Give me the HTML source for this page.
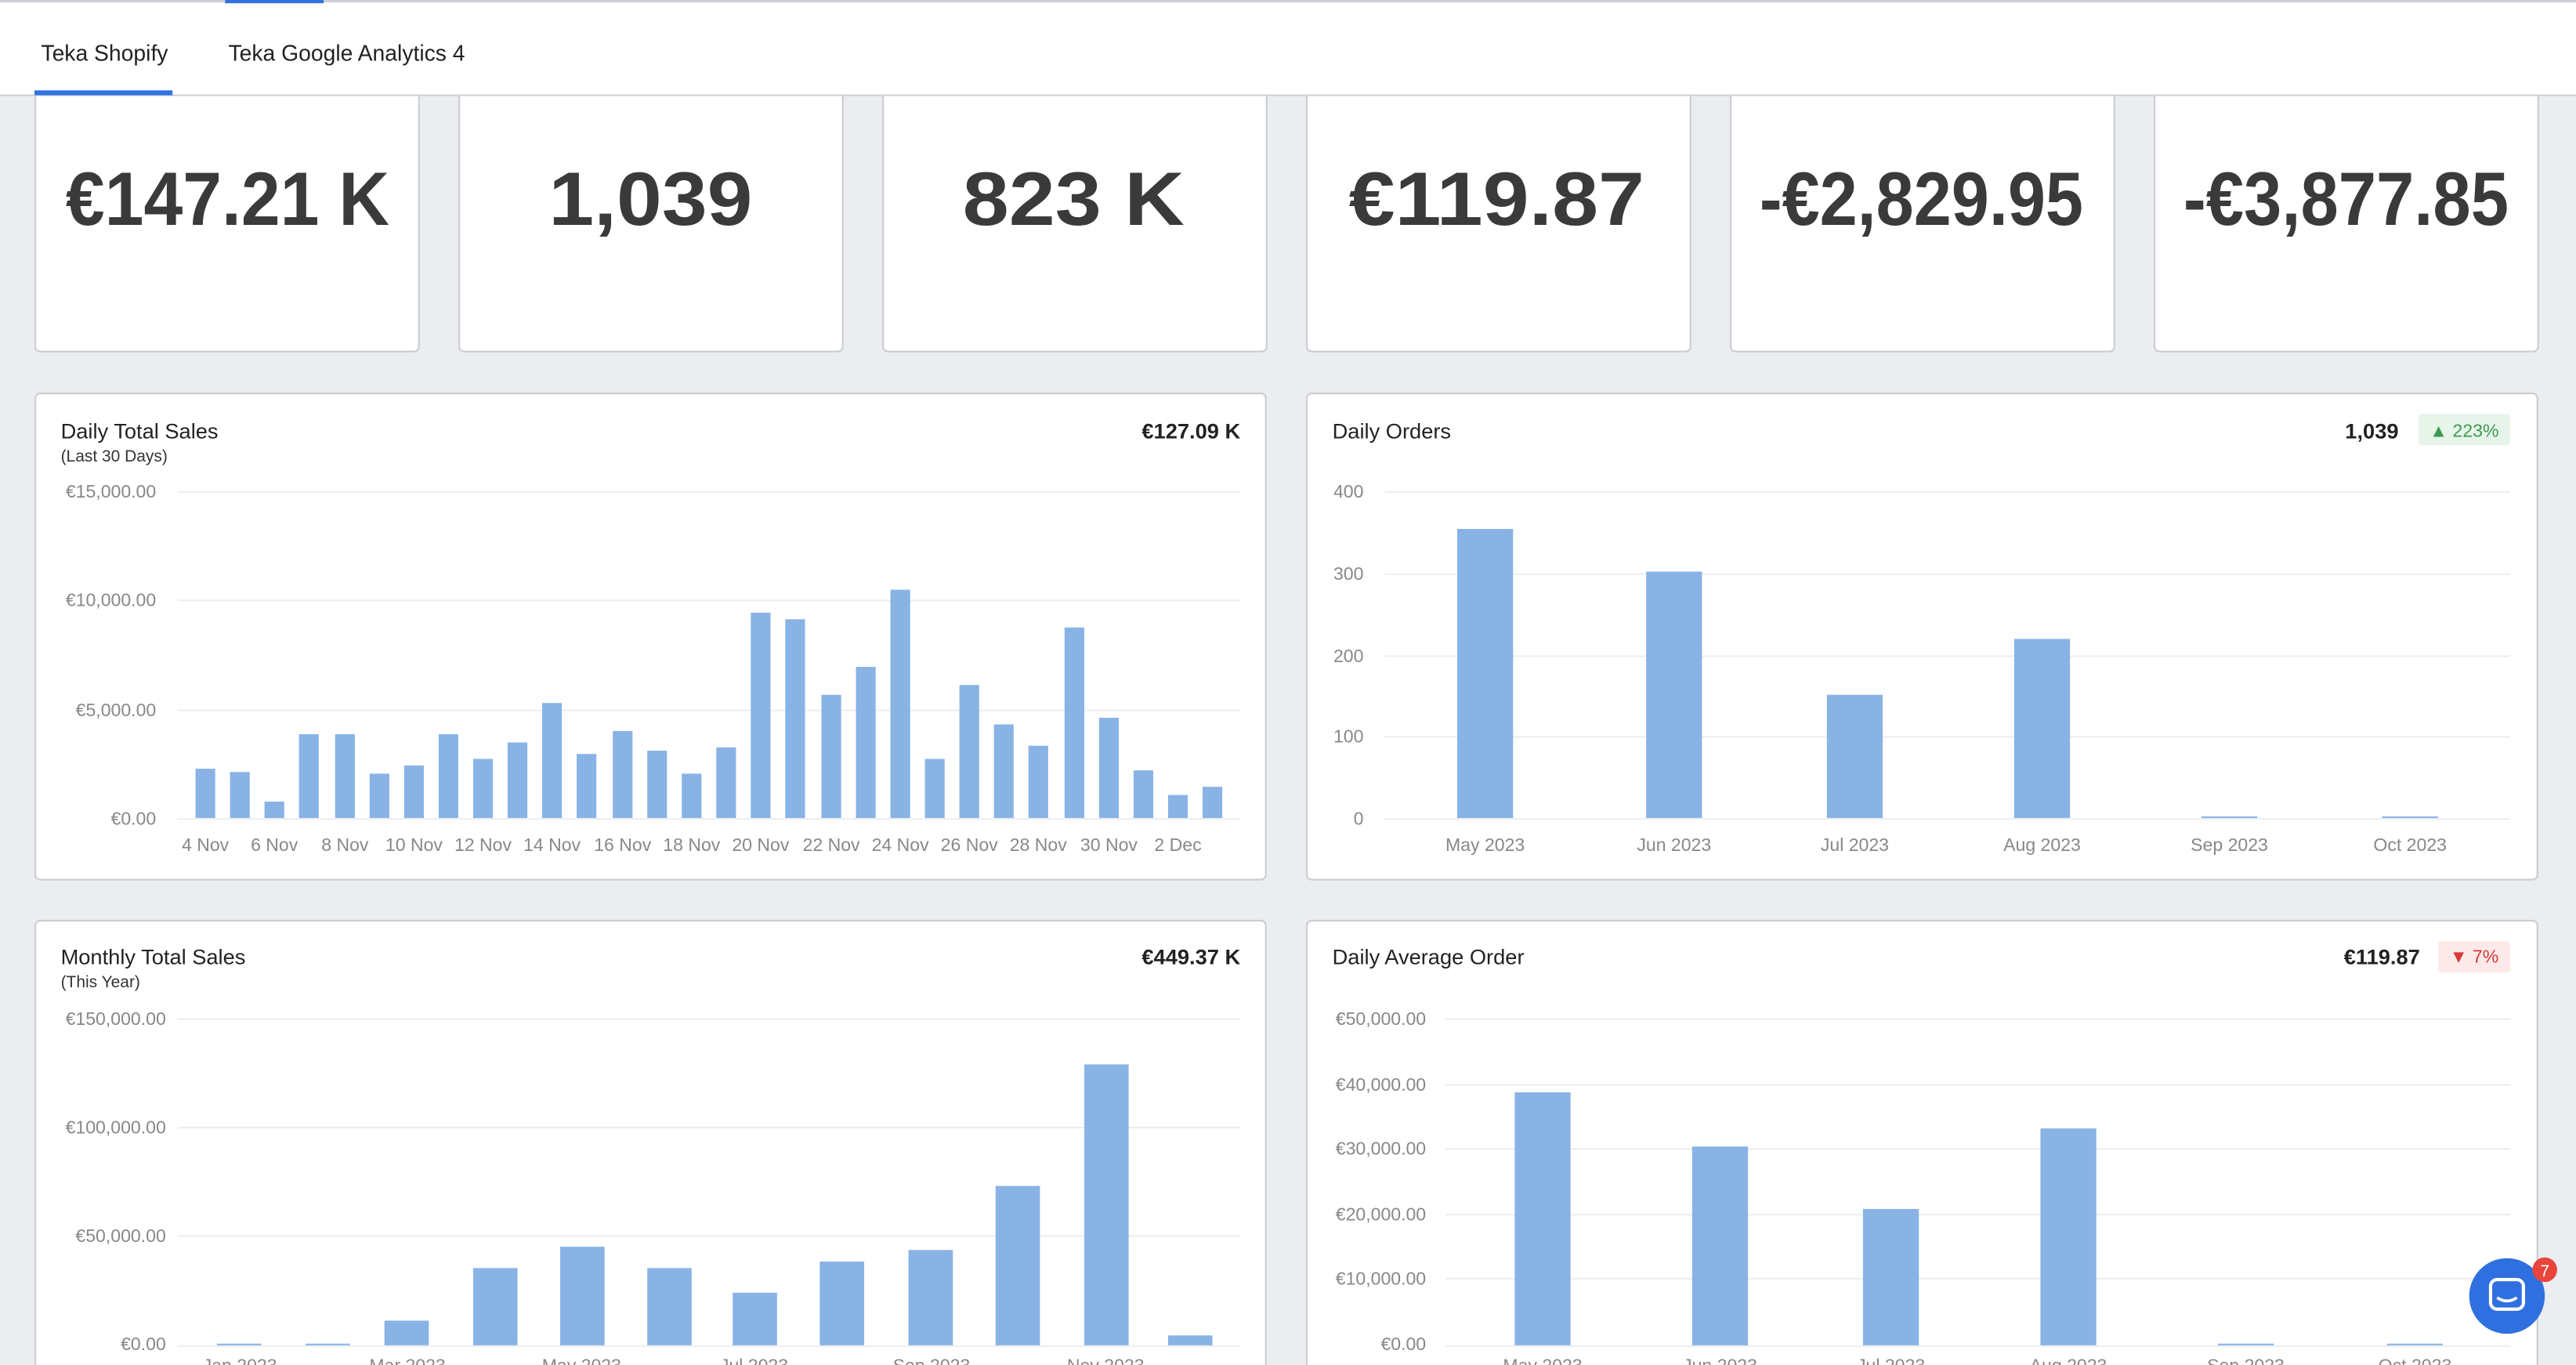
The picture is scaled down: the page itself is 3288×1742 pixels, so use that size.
<!DOCTYPE html>
<html><head><meta charset="utf-8"><style>
html,body{margin:0;padding:0;background:#ebedf0;overflow:hidden}
svg{display:block}
text{font-family:"Liberation Sans",Arial,sans-serif}
</style></head><body>
<svg width="3288" height="1742" viewBox="0 0 1568 831" preserveAspectRatio="none" xmlns="http://www.w3.org/2000/svg">
<rect x="0" y="0" width="1568" height="831" fill="#ebedf0"/>
<!-- tab bar -->
<rect x="0" y="0" width="1568" height="58" fill="#fff"/>
<rect x="0" y="0" width="1568" height="1.5" fill="#cdd0d5"/>
<rect x="137" y="0" width="60" height="2" fill="#3273e0"/>
<rect x="0" y="57.5" width="1568" height="1" fill="#cdd0d5"/>
<rect x="21" y="55" width="84" height="3" fill="#3273e0"/>
<text x="25" y="37" font-size="13.5" fill="#222">Teka Shopify</text>
<text x="139" y="37" font-size="13.5" fill="#222">Teka Google Analytics 4</text>
<!-- KPI cards -->
<g fill="#fff" stroke="#c9ccd1" stroke-width="1">
<path d="M21.5 58.5 V211 a3 3 0 0 0 3 3 H252 a3 3 0 0 0 3 -3 V58.5"/>
<path d="M279.5 58.5 V211 a3 3 0 0 0 3 3 H510 a3 3 0 0 0 3 -3 V58.5"/>
<path d="M537.5 58.5 V211 a3 3 0 0 0 3 3 H768 a3 3 0 0 0 3 -3 V58.5"/>
<path d="M795.5 58.5 V211 a3 3 0 0 0 3 3 H1026 a3 3 0 0 0 3 -3 V58.5"/>
<path d="M1053.5 58.5 V211 a3 3 0 0 0 3 3 H1284 a3 3 0 0 0 3 -3 V58.5"/>
<path d="M1311.5 58.5 V211 a3 3 0 0 0 3 3 H1542 a3 3 0 0 0 3 -3 V58.5"/>
</g>
<g font-size="46" font-weight="bold" fill="#3a3a3a">
<text x="40" y="137" textLength="197" lengthAdjust="spacingAndGlyphs">€147.21 K</text>
<text x="334" y="137" textLength="124" lengthAdjust="spacingAndGlyphs">1,039</text>
<text x="586" y="137" textLength="135" lengthAdjust="spacingAndGlyphs">823 K</text>
<text x="821" y="137" textLength="180" lengthAdjust="spacingAndGlyphs">€119.87</text>
<text x="1071" y="137" textLength="197" lengthAdjust="spacingAndGlyphs">-€2,829.95</text>
<text x="1329" y="137" textLength="198" lengthAdjust="spacingAndGlyphs">-€3,877.85</text>
</g>
<!-- chart cards -->
<g fill="#fff" stroke="#c9ccd1" stroke-width="1">
<rect x="21.5" y="239.5" width="749" height="296" rx="3"/>
<rect x="795.5" y="239.5" width="749" height="296" rx="3"/>
<rect x="21.5" y="560.5" width="749" height="300" rx="3"/>
<rect x="795.5" y="560.5" width="749" height="300" rx="3"/>
</g>
<!-- Chart 1 -->
<text x="37" y="267" font-size="13" fill="#222">Daily Total Sales</text>
<text x="37" y="281" font-size="10" fill="#333">(Last 30 Days)</text>
<text x="755" y="267" font-size="13" font-weight="bold" fill="#222" text-anchor="end">€127.09 K</text>
<g stroke="#eceef0" stroke-width="1">
<line x1="108" y1="299.5" x2="755" y2="299.5"/><line x1="108" y1="365.5" x2="755" y2="365.5"/>
<line x1="108" y1="432.5" x2="755" y2="432.5"/><line x1="108" y1="498.5" x2="755" y2="498.5"/>
</g>
<g font-size="11" fill="#888" text-anchor="end">
<text x="95" y="303">€15,000.00</text><text x="95" y="369">€10,000.00</text>
<text x="95" y="436">€5,000.00</text><text x="95" y="502">€0.00</text>
</g>
<g fill="#89b3e5" id="b1"></g>
<g font-size="11" fill="#888" text-anchor="middle" id="l1"></g>
<!-- Chart 2 -->
<text x="811" y="267" font-size="13" fill="#222">Daily Orders</text>
<text x="1460" y="267" font-size="13" font-weight="bold" fill="#222" text-anchor="end">1,039</text>
<rect x="1472" y="252" width="56" height="19" rx="2" fill="#e7f4ea"/>
<text x="1500" y="266" font-size="11" fill="#3d9a4f" text-anchor="middle">▲ 223%</text>
<g stroke="#eceef0" stroke-width="1">
<line x1="843" y1="299.5" x2="1528" y2="299.5"/><line x1="843" y1="349.5" x2="1528" y2="349.5"/>
<line x1="843" y1="399.5" x2="1528" y2="399.5"/><line x1="843" y1="448.5" x2="1528" y2="448.5"/>
<line x1="843" y1="498.5" x2="1528" y2="498.5"/>
</g>
<g font-size="11" fill="#888" text-anchor="end">
<text x="830" y="303">400</text><text x="830" y="353">300</text><text x="830" y="403">200</text>
<text x="830" y="452">100</text><text x="830" y="502">0</text>
</g>
<g fill="#89b3e5">
<rect x="887" y="322" width="34" height="176"/><rect x="1002" y="348" width="34" height="150"/>
<rect x="1112" y="423" width="34" height="75"/><rect x="1226" y="389" width="34" height="109"/>
<rect x="1340" y="497" width="34" height="1"/><rect x="1450" y="497" width="34" height="1"/>
</g>
<g font-size="11" fill="#888" text-anchor="middle">
<text x="904" y="518">May 2023</text><text x="1019" y="518">Jun 2023</text><text x="1129" y="518">Jul 2023</text>
<text x="1243" y="518">Aug 2023</text><text x="1357" y="518">Sep 2023</text><text x="1467" y="518">Oct 2023</text>
</g>
<!-- Chart 3 -->
<text x="37" y="587" font-size="13" fill="#222">Monthly Total Sales</text>
<text x="37" y="601" font-size="10" fill="#333">(This Year)</text>
<text x="755" y="587" font-size="13" font-weight="bold" fill="#222" text-anchor="end">€449.37 K</text>
<g stroke="#eceef0" stroke-width="1">
<line x1="108" y1="620.5" x2="755" y2="620.5"/><line x1="108" y1="686.5" x2="755" y2="686.5"/>
<line x1="108" y1="752.5" x2="755" y2="752.5"/><line x1="108" y1="819.5" x2="755" y2="819.5"/>
</g>
<g font-size="11" fill="#888" text-anchor="end">
<text x="101" y="624">€150,000.00</text><text x="101" y="690">€100,000.00</text>
<text x="101" y="756">€50,000.00</text><text x="101" y="822">€0.00</text>
</g>
<g fill="#89b3e5">
<rect x="132" y="818" width="27" height="1"/><rect x="186" y="818" width="27" height="1"/>
<rect x="234" y="804" width="27" height="15"/><rect x="288" y="772" width="27" height="47"/>
<rect x="341" y="759" width="27" height="60"/><rect x="394" y="772" width="27" height="47"/>
<rect x="446" y="787" width="27" height="32"/><rect x="499" y="768" width="27" height="51"/>
<rect x="553" y="761" width="27" height="58"/><rect x="606" y="722" width="27" height="97"/>
<rect x="660" y="648" width="27" height="171"/><rect x="711" y="813" width="27" height="6"/>
</g>
<g font-size="11" fill="#888" text-anchor="middle">
<text x="146" y="835">Jan 2023</text><text x="248" y="835">Mar 2023</text><text x="354" y="835">May 2023</text>
<text x="459" y="835">Jul 2023</text><text x="567" y="835">Sep 2023</text><text x="673" y="835">Nov 2023</text>
</g>
<!-- Chart 4 -->
<text x="811" y="587" font-size="13" fill="#222">Daily Average Order</text>
<text x="1473" y="587" font-size="13" font-weight="bold" fill="#222" text-anchor="end">€119.87</text>
<rect x="1484" y="573" width="44" height="19" rx="2" fill="#fde9e9"/>
<text x="1506" y="586" font-size="11" fill="#d63a3a" text-anchor="middle">▼ 7%</text>
<g stroke="#eceef0" stroke-width="1">
<line x1="880" y1="620.5" x2="1528" y2="620.5"/><line x1="880" y1="660.5" x2="1528" y2="660.5"/>
<line x1="880" y1="699.5" x2="1528" y2="699.5"/><line x1="880" y1="739.5" x2="1528" y2="739.5"/>
<line x1="880" y1="778.5" x2="1528" y2="778.5"/><line x1="880" y1="819.5" x2="1528" y2="819.5"/>
</g>
<g font-size="11" fill="#888" text-anchor="end">
<text x="868" y="624">€50,000.00</text><text x="868" y="664">€40,000.00</text><text x="868" y="703">€30,000.00</text>
<text x="868" y="743">€20,000.00</text><text x="868" y="782">€10,000.00</text><text x="868" y="822">€0.00</text>
</g>
<g fill="#89b3e5">
<rect x="922" y="665" width="34" height="154"/><rect x="1030" y="698" width="34" height="121"/>
<rect x="1134" y="736" width="34" height="83"/><rect x="1242" y="687" width="34" height="132"/>
<rect x="1350" y="818" width="34" height="1"/><rect x="1453" y="818" width="34" height="1"/>
</g>
<g font-size="11" fill="#888" text-anchor="middle">
<text x="939" y="835">May 2023</text><text x="1047" y="835">Jun 2023</text><text x="1151" y="835">Jul 2023</text>
<text x="1259" y="835">Aug 2023</text><text x="1367" y="835">Sep 2023</text><text x="1470" y="835">Oct 2023</text>
</g>
<!-- chat bubble -->
<circle cx="1526" cy="789" r="23" fill="#2f6fdf"/>
<rect x="1516" y="779" width="20" height="18" rx="4" fill="none" stroke="#fff" stroke-width="2"/>
<path d="M1520 790 q6 4 12 0" fill="none" stroke="#fff" stroke-width="1.8"/>
<circle cx="1549" cy="773" r="7.5" fill="#e8453c"/>
<text x="1549" y="777" font-size="10" fill="#fff" text-anchor="middle">7</text>
<!-- chart 1 bars -->
<g fill="#89b3e5">
<rect x="119" y="468" width="12" height="30"/><rect x="140" y="470" width="12" height="28"/>
<rect x="161" y="488" width="12" height="10"/><rect x="182" y="447" width="12" height="51"/>
<rect x="204" y="447" width="12" height="51"/><rect x="225" y="471" width="12" height="27"/>
<rect x="246" y="466" width="12" height="32"/><rect x="267" y="447" width="12" height="51"/>
<rect x="288" y="462" width="12" height="36"/><rect x="309" y="452" width="12" height="46"/>
<rect x="330" y="428" width="12" height="70"/><rect x="351" y="459" width="12" height="39"/>
<rect x="373" y="445" width="12" height="53"/><rect x="394" y="457" width="12" height="41"/>
<rect x="415" y="471" width="12" height="27"/><rect x="436" y="455" width="12" height="43"/>
<rect x="457" y="373" width="12" height="125"/><rect x="478" y="377" width="12" height="121"/>
<rect x="500" y="423" width="12" height="75"/><rect x="521" y="406" width="12" height="92"/>
<rect x="542" y="359" width="12" height="139"/><rect x="563" y="462" width="12" height="36"/>
<rect x="584" y="417" width="12" height="81"/><rect x="605" y="441" width="12" height="57"/>
<rect x="626" y="454" width="12" height="44"/><rect x="648" y="382" width="12" height="116"/>
<rect x="669" y="437" width="12" height="61"/><rect x="690" y="469" width="12" height="29"/>
<rect x="711" y="484" width="12" height="14"/><rect x="732" y="479" width="12" height="19"/>
</g>
<g font-size="11" fill="#888" text-anchor="middle">
<text x="125" y="518">4 Nov</text><text x="167" y="518">6 Nov</text><text x="210" y="518">8 Nov</text>
<text x="252" y="518">10 Nov</text><text x="294" y="518">12 Nov</text><text x="336" y="518">14 Nov</text>
<text x="379" y="518">16 Nov</text><text x="421" y="518">18 Nov</text><text x="463" y="518">20 Nov</text>
<text x="506" y="518">22 Nov</text><text x="548" y="518">24 Nov</text><text x="590" y="518">26 Nov</text>
<text x="632" y="518">28 Nov</text><text x="675" y="518">30 Nov</text><text x="717" y="518">2 Dec</text>
</g>
</svg>
</body></html>
